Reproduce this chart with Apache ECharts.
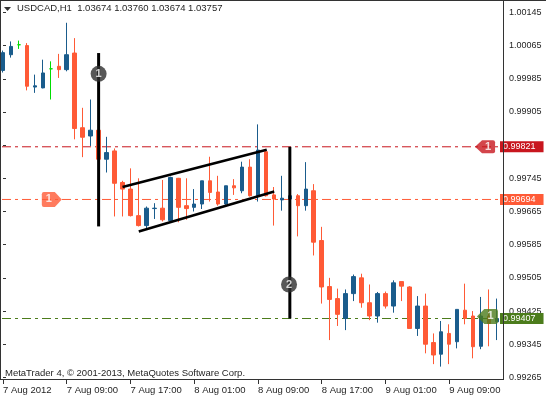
<!DOCTYPE html>
<html>
<head>
<meta charset="utf-8">
<script src="https://cdn.jsdelivr.net/npm/echarts@6/dist/echarts.min.js"></script>
<style>
html,body{margin:0;padding:0;background:#fff;}
#chart{width:546px;height:396px;}
</style>
</head>
<body>
<div id="chart"></div>
<script>
// ---------- data ----------
const categories = [
 '2012.08.07 01:00','2012.08.07 02:00','2012.08.07 03:00','2012.08.07 04:00','2012.08.07 05:00','2012.08.07 06:00',
 '2012.08.07 07:00','2012.08.07 08:00','2012.08.07 09:00','2012.08.07 10:00','2012.08.07 11:00','2012.08.07 12:00',
 '2012.08.07 13:00','2012.08.07 14:00','2012.08.07 15:00','2012.08.07 16:00','2012.08.07 17:00','2012.08.07 18:00',
 '2012.08.07 19:00','2012.08.07 20:00','2012.08.07 21:00','2012.08.07 22:00','2012.08.07 23:00',
 '2012.08.08 00:00','2012.08.08 01:00','2012.08.08 02:00','2012.08.08 03:00','2012.08.08 04:00','2012.08.08 05:00',
 '2012.08.08 06:00','2012.08.08 07:00','2012.08.08 08:00','2012.08.08 09:00','2012.08.08 10:00','2012.08.08 11:00',
 '2012.08.08 12:00','2012.08.08 13:00','2012.08.08 14:00','2012.08.08 15:00','2012.08.08 16:00','2012.08.08 17:00',
 '2012.08.08 18:00','2012.08.08 19:00','2012.08.08 20:00','2012.08.08 21:00','2012.08.08 22:00','2012.08.08 23:00',
 '2012.08.09 00:00','2012.08.09 01:00','2012.08.09 02:00','2012.08.09 03:00','2012.08.09 04:00','2012.08.09 05:00',
 '2012.08.09 06:00','2012.08.09 07:00','2012.08.09 08:00','2012.08.09 09:00','2012.08.09 10:00','2012.08.09 11:00',
 '2012.08.09 12:00','2012.08.09 13:00','2012.08.09 14:00','2012.08.09 15:00'
];
const tickLabels = ['7 Aug 2012','7 Aug 09:00','7 Aug 17:00','8 Aug 01:00','8 Aug 09:00','8 Aug 17:00','9 Aug 01:00','9 Aug 09:00'];

const opens = [1.00005,1.00043,1.00067,1.00065,0.99965,0.99963,1.00009,1.00015,1.00007,1.00047,
 0.99867,0.99847,0.99861,0.99791,0.99811,0.99735,0.99719,0.99655,0.99631,0.99672,
 0.99673,0.99643,0.99745,0.99679,0.99675,0.99683,0.99739,0.99712,0.99683,0.99727,
 0.99715,0.99772,0.99703,0.99809,0.99705,0.99693,0.99695,0.99703,0.99679,0.99715,
 0.99595,0.99484,0.99455,0.99407,0.99467,0.99505,0.99445,0.99413,0.99467,0.99437,
 0.99496,0.99483,0.99383,0.99437,0.99349,0.99321,0.99371,0.99351,0.99427,0.99413,
 0.99340,0.99413,0.99399];
const closes = [1.00048,1.00063,1.00067,0.99967,0.99968,0.99999,1.00009,1.00007,1.00043,0.99865,
 0.99844,0.99861,0.99791,0.99807,0.99733,0.99719,0.99655,0.99631,0.99673,0.99673,
 0.99645,0.99747,0.99675,0.99672,0.99683,0.99739,0.99711,0.99683,0.99727,0.99722,
 0.99772,0.99703,0.99813,0.99703,0.99695,0.99697,0.99703,0.99679,0.99719,0.99591,
 0.99483,0.99453,0.99417,0.99467,0.99508,0.99445,0.99413,0.99467,0.99437,0.99493,
 0.99485,0.99383,0.99437,0.99345,0.99319,0.99375,0.99345,0.99429,0.99407,0.99339,
 0.99413,0.99395,0.99407];
const lows = [1.00000,1.00036,1.00057,0.99957,0.99951,0.99962,0.99935,0.99987,1.00003,0.99839,
 0.99796,0.99823,0.99789,0.99759,0.99653,0.99653,0.99653,0.99629,0.99621,0.99647,
 0.99641,0.99641,0.99639,0.99645,0.99665,0.99671,0.99689,0.99679,0.99681,0.99705,
 0.99709,0.99701,0.99689,0.99701,0.99631,0.99667,0.99693,0.99605,0.99667,0.99559,
 0.99443,0.99355,0.99389,0.99379,0.99449,0.99433,0.99403,0.99397,0.99431,0.99421,
 0.99449,0.99383,0.99365,0.99323,0.99297,0.99291,0.99297,0.99335,0.99393,0.99311,
 0.99333,0.99340,0.99355];
const highs = [1.00053,1.00075,1.00077,1.00071,0.99995,1.00031,1.00027,1.00045,1.00120,1.00083,
 0.99915,0.99935,0.99866,0.99845,0.99817,0.99739,0.99769,0.99745,0.99677,0.99685,
 0.99741,0.99749,0.99746,0.99745,0.99719,0.99739,0.99797,0.99751,0.99727,0.99743,
 0.99785,0.99791,0.99875,0.99813,0.99724,0.99751,0.99705,0.99707,0.99784,0.99731,
 0.99628,0.99505,0.99479,0.99477,0.99513,0.99515,0.99489,0.99471,0.99472,0.99499,
 0.99496,0.99485,0.99461,0.99467,0.99371,0.99401,0.99393,0.99429,0.99491,0.99425,
 0.99459,0.99477,0.99455];

// annotation values (bar position, price)
const levelRed = 0.99821, levelOrange = 0.99694, levelGreen = 0.99407;
const levelSpan = [-0.125, 62.81];
const vLine1 = [[12, 1.00047], [12, 0.99629]];
const vLine2 = [[36, levelRed], [36, levelGreen]];
const channelUpper = [[15, 0.99724], [33.1, 0.99814]];
const channelLower = [[17.04, 0.99617], [34.04, 0.99713]];
const circleMarks = [{pos: [12, 0.99997], text: '1'}, {pos: [35.9, 0.99489], text: '2'}];
const arrowMarks = [
  {pos: [60.5, 0.99821], dir: 'left', color: '#c8161e', size: [20, 13]},
  {pos: [6.125, 0.99694], dir: 'right', color: '#ff5a36', size: [20, 15]},
  {pos: [60.8, 0.99412], dir: 'left', color: '#4c7c1c', size: [21, 15]}
];

// ---------- colours ----------
const BULL = '#1a5c8c', BEAR = '#ff5a36', DOJI = '#00dd00';
const FONT = 'Liberation Sans';
const TXT = '#1e1e1e';
const FRAME = '#333333';

const candleData = opens.map((o, i) => {
  const item = {value: [o, closes[i], lows[i], highs[i]]};
  if (o === closes[i]) item.itemStyle = {color: DOJI, borderColor: DOJI, color0: DOJI, borderColor0: DOJI, borderColorDoji: DOJI};
  return item;
});

const leftArrow = 'path://M0,6.5 L7,0 L18,0 Q20,0 20,2 L20,11 Q20,13 18,13 L7,13 Z';
const rightArrow = 'path://M20,6.5 L13,0 L2,0 Q0,0 0,2 L0,11 Q0,13 2,13 L13,13 Z';

function levelSeries(value, color) {
  return {
    type: 'line', xAxisIndex: 1, yAxisIndex: 0, clip: false, z: 3,
    symbol: 'none', silent: true,
    data: [[levelSpan[0], value], [levelSpan[1], value]],
    lineStyle: {color: color, width: 1, type: [9, 4, 3, 4]},
    endLabel: {
      show: true, formatter: value.toFixed(5), distance: 2,
      color: '#fff', backgroundColor: color, padding: [1, 8, 1, 3],
      fontFamily: FONT, fontSize: 9, lineHeight: 9
    }
  };
}

const chart = echarts.init(document.getElementById('chart'), null, {renderer: 'canvas'});
chart.setOption({
  animation: false,
  backgroundColor: '#fff',
  grid: {left: 1, width: 496, top: 12.4, height: 365, containLabel: false},
  xAxis: [{
    type: 'category', data: categories, boundaryGap: false, position: 'bottom', offset: 2.6,
    axisLine: {show: false},
    axisTick: {show: true, interval: 7, length: 4, lineStyle: {color: FRAME}},
    axisLabel: {interval: 7, align: 'left', margin: 5, color: TXT, fontFamily: FONT, fontSize: 9.5,
      formatter: (v, idx) => tickLabels[idx / 8] || ''},
    splitLine: {show: false}
  }, {
    type: 'value', min: 0, max: 62, show: false
  }],
  yAxis: [{
    type: 'value', position: 'right', offset: 6.5, scale: true,
    min: 0.99265, max: 1.00145, interval: 0.0008,
    axisLine: {show: false},
    axisTick: {show: true, length: 3, lineStyle: {color: FRAME}},
    axisLabel: {margin: 5.5, color: TXT, fontFamily: FONT, fontSize: 9, formatter: v => v.toFixed(5)},
    splitLine: {show: false}
  }],
  series: [
    levelSeries(levelRed, '#c8161e'),
    levelSeries(levelOrange, BEAR),
    levelSeries(levelGreen, '#4c7c1c'),
    {
      type: 'candlestick', xAxisIndex: 0, yAxisIndex: 0, z: 4, clip: false,
      barWidth: 4,
      data: candleData,
      itemStyle: {color: BULL, color0: BEAR, borderColor: BULL, borderColor0: BEAR, borderColorDoji: DOJI, borderWidth: 1}
    },
    {type: 'line', xAxisIndex: 1, z: 6, symbol: 'none', clip: false, data: vLine1, lineStyle: {color: '#000', width: 3}},
    {type: 'line', xAxisIndex: 1, z: 6, symbol: 'none', clip: false, data: vLine2, lineStyle: {color: '#000', width: 3}},
    {type: 'line', xAxisIndex: 1, z: 6, symbol: 'none', clip: false, data: channelUpper, lineStyle: {color: '#000', width: 2.6}},
    {type: 'line', xAxisIndex: 1, z: 6, symbol: 'none', clip: false, data: channelLower, lineStyle: {color: '#000', width: 2.6}},
    {
      type: 'scatter', xAxisIndex: 1, z: 7, clip: false,
      data: circleMarks.map(c => ({value: c.pos, label: {formatter: c.text}})),
      symbol: 'circle', symbolSize: 16,
      itemStyle: {color: '#2e2e2e'},
      label: {show: true, position: 'inside', color: '#fff', fontWeight: 'bold', fontFamily: FONT, fontSize: 11}
    },
    {
      type: 'scatter', xAxisIndex: 1, z: 7, clip: false,
      data: arrowMarks.map(m => ({
        value: m.pos,
        symbol: m.dir === 'left' ? leftArrow : rightArrow,
        symbolSize: m.size,
        itemStyle: {color: m.color},
        label: {offset: [m.dir === 'left' ? 3 : -3, 0]}
      })),
      label: {show: true, position: 'inside', formatter: '1', color: '#fff', fontWeight: 'bold', fontFamily: FONT, fontSize: 11}
    }
  ],
  graphic: [
    {type: 'line', z: 100, shape: {x1: 0, y1: 0.5, x2: 546, y2: 0.5}, style: {stroke: FRAME, lineWidth: 1}},
    {type: 'line', z: 100, shape: {x1: 0.5, y1: 0, x2: 0.5, y2: 380}, style: {stroke: FRAME, lineWidth: 1}},
    {type: 'line', z: 100, shape: {x1: 0, y1: 379.5, x2: 504, y2: 379.5}, style: {stroke: FRAME, lineWidth: 1}},
    {type: 'line', z: 100, shape: {x1: 503.5, y1: 0, x2: 503.5, y2: 380}, style: {stroke: FRAME, lineWidth: 1}},
    {type: 'polygon', z: 100, shape: {points: [[4, 7], [11, 7], [7.5, 11]]}, style: {fill: '#333'}},
    {type: 'text', z: 100, left: 17, top: 3,
      style: {text: 'USDCAD,H1  1.03674 1.03760 1.03674 1.03757', fill: TXT, font: '9.5px "Liberation Sans"'}},
    {type: 'text', z: 100, left: 5, top: 368,
      style: {text: 'MetaTrader 4, \u00a9 2001-2013, MetaQuotes Software Corp.', fill: TXT, font: '9.5px "Liberation Sans"'}}
  ]
});
</script>
</body>
</html>
